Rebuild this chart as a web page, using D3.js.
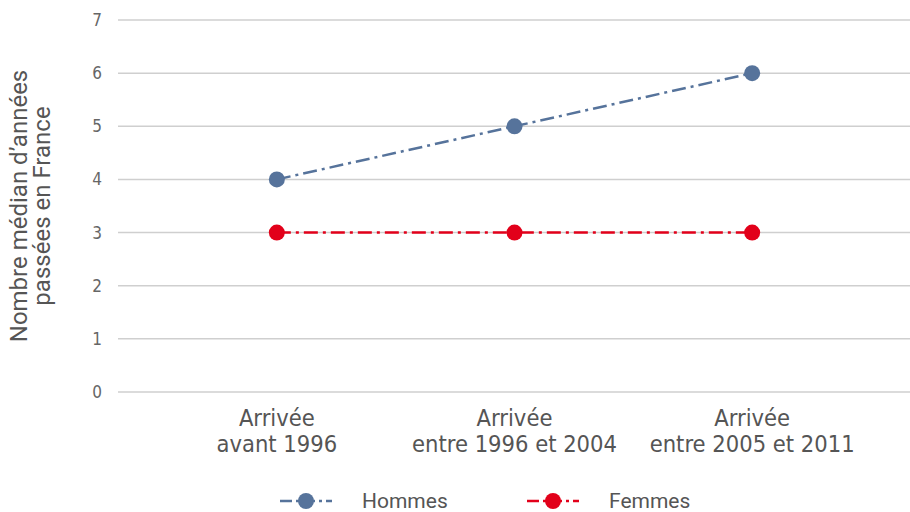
<!DOCTYPE html>
<html>
<head>
<meta charset="utf-8">
<script src="https://cdn.jsdelivr.net/npm/d3@7"></script>
<style>
  body { margin: 0; background: #fff; }
  text { font-family: "Liberation Sans Narrow", "DejaVu Sans Condensed", sans-serif; fill: #555; }
</style>
</head>
<body>
<div id="chart-area"></div>
<script>
const categories = [
  ['Arrivée', 'avant 1996'],
  ['Arrivée', 'entre 1996 et 2004'],
  ['Arrivée', 'entre 2005 et 2011']
];
const hommes = [4, 5, 6];
const femmes = [3, 3, 3];
const yTicks = [0, 1, 2, 3, 4, 5, 6, 7];
const seriesNames = ['Hommes', 'Femmes'];
const colors = ['#56739b', '#e2001a'];

const W = 910, H = 512;
const svg = d3.select('#chart-area').append('svg')
  .attr('width', W)
  .attr('height', H)

const keys = categories.map((c, i) => i)

const x = d3.scaleBand()
  .domain(keys)
  .range([158, 871])

const y = d3.scaleLinear()
  .domain([0, 7])
  .range([392, 20])

const cx = i => x(i) + x.bandwidth() / 2

// grid
svg.append('g').selectAll('line').data(yTicks).enter()
  .append('line')
  .attr('x1', 118)
  .attr('x2', 910)
  .attr('y1', d => y(d))
  .attr('y2', d => y(d))
  .attr('stroke', '#cfcfcf')
  .attr('stroke-width', 1.5)

// y tick labels
svg.append('g').selectAll('text').data(yTicks).enter()
  .append('text')
  .attr('x', 97)
  .attr('y', d => y(d))
  .attr('dy', '0.35em')
  .attr('text-anchor', 'middle')
  .attr('font-size', '17px')
  .style('fill', '#666')
  .text(d => d)

// y axis title
const yt = svg.append('text')
  .attr('transform', 'translate(27, 206) rotate(-90)')
  .attr('text-anchor', 'middle')
  .attr('font-size', '24px')
  .style('font-family', 'Roboto, sans-serif')
  .style('fill', '#555')
yt.append('tspan').attr('x', 0).attr('y', 0).text('Nombre médian d\u2019années')
yt.append('tspan').attr('x', 0).attr('y', 23).text('passées en France')

// x labels
const xl = svg.append('g').selectAll('text').data(categories).enter()
  .append('text')
  .attr('text-anchor', 'middle')
  .attr('font-size', '23.5px')
  .style('fill', '#555')
xl.append('tspan').attr('x', (d, i) => cx(i)).attr('y', 426).text(d => d[0])
xl.append('tspan').attr('x', (d, i) => cx(i)).attr('y', 452).text(d => d[1])

// series
const dash = '14,5,3,5'
const line = d3.line()
  .x((d, i) => cx(i))
  .y(d => y(d))

const series = [hommes, femmes]
series.forEach((vals, s) => {
  svg.append('path')
    .datum(vals)
    .attr('d', line)
    .attr('fill', 'none')
    .attr('stroke', colors[s])
    .attr('stroke-width', 2.5)
    .attr('stroke-dasharray', dash)
  svg.append('g').selectAll('circle').data(vals).enter()
    .append('circle')
    .attr('cx', (d, i) => cx(i))
    .attr('cy', d => y(d))
    .attr('r', 8)
    .attr('fill', colors[s])
})

// legend
const legendX = [280, 527]
seriesNames.forEach((name, s) => {
  const lg = svg.append('g').attr('transform', `translate(${legendX[s]}, 501)`)
  lg.append('line')
    .attr('x1', 0).attr('x2', 52)
    .attr('y1', 0).attr('y2', 0)
    .attr('stroke', colors[s])
    .attr('stroke-width', 2.5)
    .attr('stroke-dasharray', '12,4,3,4')
  lg.append('circle')
    .attr('cx', 26).attr('cy', 0).attr('r', 8)
    .attr('fill', colors[s])
  lg.append('text')
    .attr('x', 82)
    .attr('y', 0)
    .attr('dy', '0.35em')
    .attr('font-size', '21px')
    .style('font-family', 'Roboto, sans-serif')
    .style('fill', '#555')
    .text(name)
})
</script>
</body>
</html>
